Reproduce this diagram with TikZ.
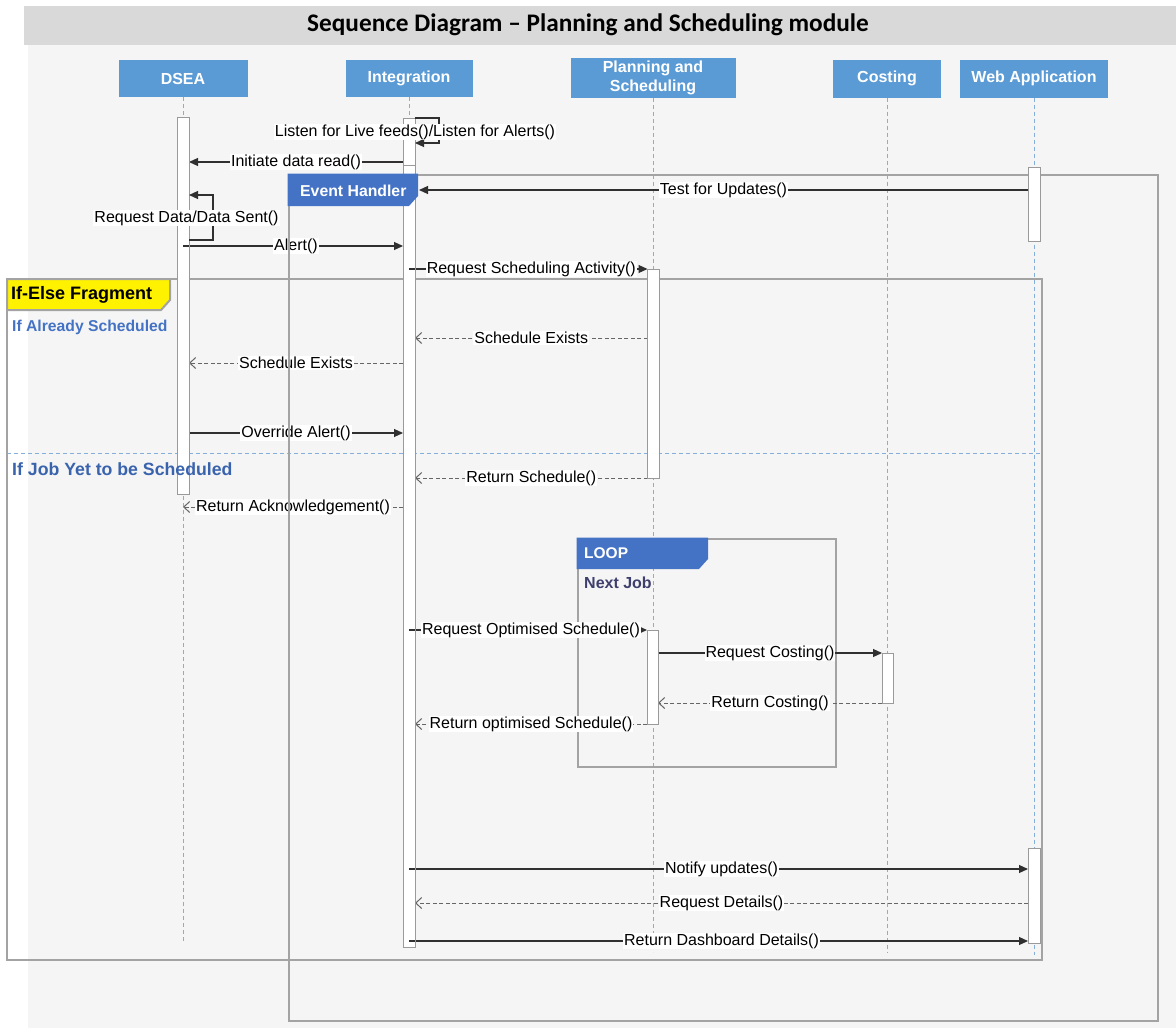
\documentclass[tikz,border=0pt]{standalone}
\usepackage{fontspec}
\setmainfont{Liberation Sans}
\newfontfamily\titlefont{Carlito}
\usetikzlibrary{arrows.meta}
\definecolor{hdrblue}{HTML}{5B9BD5}
\definecolor{tabblue}{HTML}{4472C4}
\definecolor{lifeblue}{HTML}{86AEDB}
\definecolor{framegray}{HTML}{A3A3A3}
\definecolor{actgray}{HTML}{9A9A9A}
\definecolor{msggray}{HTML}{303030}
\definecolor{retgray}{HTML}{666666}
\definecolor{panelgray}{HTML}{F5F5F5}
\definecolor{titlegray}{HTML}{D9D9D9}
\definecolor{condblue}{HTML}{4472C4}
\definecolor{condblueB}{HTML}{3A63AE}
\definecolor{nextjob}{HTML}{3F3F6E}
\newcommand\fsz[2]{\fontsize{#1}{#2}\selectfont}
\pgfdeclarelayer{bg}
\pgfdeclarelayer{life}
\pgfdeclarelayer{frames}
\pgfdeclarelayer{acts}
\pgfdeclarelayer{over}
\pgfdeclarelayer{top}
\pgfsetlayers{bg,life,main,frames,acts,over,top}
\tikzset{
  hdr/.style={fill=hdrblue, text=white, font=\bfseries\fsz{16}{19}, inner sep=0pt, outer sep=0pt, align=center},
  life/.style={draw=lifeblue, dash pattern=on 4pt off 3pt, line width=0.9pt},
  act/.style={draw=actgray, fill=white, line width=0.9pt, inner sep=0pt, outer sep=0pt, anchor=north west},
  msg/.style={draw=msggray, line width=1.1pt, -{Triangle[length=9pt,width=8pt]}},
  stub/.style={draw=msggray, line width=1.1pt},
  ret/.style={draw=retgray, line width=1pt, dash pattern=on 4pt off 2.5pt, -{Straight Barb[length=6pt,width=11pt]}},
  lbl/.style={fill=white, inner sep=1pt, font=\fsz{16}{18}, text=black},
  frm/.style={draw=framegray, line width=2.6pt},
}
\begin{document}
\begin{tikzpicture}[x=1pt,y=-1pt]
\useasboundingbox (0,0) rectangle (1176,1028);
\begin{pgfonlayer}{bg}
\fill[white] (0,0) rectangle (1176,1028);
\fill[panelgray] (28,45) rectangle (1176,1028);
\fill[titlegray] (24,6) rectangle (1176,45);
\end{pgfonlayer}
\node[font=\titlefont\bfseries\fsz{25.3}{29}] (title) at (588,25) {Sequence Diagram – Planning and Scheduling module};

% headers
\node[hdr, minimum width=129pt, minimum height=37pt] (dsea) at (183,78.5) {DSEA};
\node[hdr, minimum width=127pt, minimum height=37pt] (int) at (409,78.5) {Integration};
\node[hdr, minimum width=165pt, minimum height=40pt] (ps) at (653,78) {Planning and\\Scheduling};
\node[hdr, minimum width=108pt, minimum height=38pt] (cost) at (887,78.5) {Costing};
\node[hdr, minimum width=148pt, minimum height=38pt] (web) at (1034,78.5) {Web Application};

% lifelines
\coordinate (dseaEnd) at (183,943);
\coordinate (intEnd) at (409,950);
\coordinate (psEnd) at (653,952);
\coordinate (costEnd) at (887,952);
\coordinate (webEnd) at (1034,955);
\begin{pgfonlayer}{life}
\draw[life] (dsea.south) -- (dseaEnd);
\draw[life] (int.south) -- (intEnd);
\draw[life] (ps.south) -- (psEnd);
\draw[life] (cost.south) -- (costEnd);
\draw[life] (web.south) -- (webEnd);
\draw[life] (7,453) -- (1042,453);
\draw[frm] (578,539) rectangle (836,767);
\end{pgfonlayer}

% activations
\begin{pgfonlayer}{acts}
\node[act, minimum width=12pt, minimum height=377pt] (dseaAct) at (177,117) {};
\node[act, minimum width=12pt, minimum height=47pt] (intSelf) at (403,118) {};
\node[act, minimum width=12pt, minimum height=782pt] (intAct) at (403,165) {};
\node[act, minimum width=11.5pt, minimum height=209pt] (psAct1) at (647.5,269) {};
\node[act, minimum width=11pt, minimum height=94pt] (psAct2) at (647,630) {};
\node[act, minimum width=11pt, minimum height=50pt] (costAct) at (882,653) {};
\node[act, minimum width=12pt, minimum height=74pt] (webAct1) at (1028,167) {};
\node[act, minimum width=12pt, minimum height=95pt] (webAct2) at (1028,848) {};
\end{pgfonlayer}

% frames
\begin{pgfonlayer}{frames}
\draw[frm] (289,175) rectangle (1158,1021);
\draw[frm] (7,279) rectangle (1042,960);
\end{pgfonlayer}

% messages
\coordinate (ehTip) at (419,190);
\begin{pgfonlayer}{over}
\draw[stub] (dseaEnd |- 0,246) -- (dseaAct.east |- 0,246);
\draw[stub] (intEnd |- 0,269) -- (intAct.east |- 0,269);
\draw[stub] (intEnd |- 0,630) -- (intAct.east |- 0,630);
\draw[stub] (intEnd |- 0,869) -- (intAct.east |- 0,869);
\draw[stub] (intEnd |- 0,941) -- (intAct.east |- 0,941);
\end{pgfonlayer}
\begin{pgfonlayer}{top}
\draw[msg] (intSelf.north east) -- ++(24,0) |- (intSelf.east |- 0,143);
\node[lbl] (lListen) at (415,132) {Listen for Live feeds()/Listen for Alerts()};
\draw[msg] (dseaAct.east |- 0,240) -- ++(24,0) |- (dseaAct.east |- 0,195);
\node[lbl] (lReqData) at (186.5,218) {Request Data/Data Sent()};
\end{pgfonlayer}
\draw[msg] (intSelf.west |- 0,162) -- node[lbl] (lInit) {Initiate data read()} (dseaAct.east |- 0,162);
\draw[msg] (webAct1.west |- 0,190) -- node[lbl] (lTest) {Test for Updates()} (ehTip);
\draw[msg] (dseaAct.east |- 0,246) -- node[lbl] (lAlert) {Alert()} (intAct.west |- 0,246);
\draw[msg] (intAct.east |- 0,269) -- node[lbl] (lReqSch) {Request Scheduling Activity()} (psAct1.west |- 0,269);
\draw[ret] (psAct1.west |- 0,338) -- node[lbl] (lExists1) {Schedule Exists} (intAct.east |- 0,338);
\draw[ret] (intAct.west |- 0,363) -- node[lbl] (lExists2) {Schedule Exists} (dseaAct.east |- 0,363);
\draw[msg] (dseaAct.east |- 0,433) -- node[lbl] (lOverride) {Override Alert()} (intAct.west |- 0,433);
\draw[ret] (psAct1.west |- 0,478) -- node[lbl] (lRetSch) {Return Schedule()} (intAct.east |- 0,478);
\draw[ret] (intAct.west |- 0,507) -- node[lbl] (lAck) {Return Acknowledgement()} (dseaEnd |- 0,507);
\draw[msg] (intAct.east |- 0,630) -- node[lbl] (lReqOpt) {Request Optimised Schedule()} (psAct2.west |- 0,630);
\draw[msg] (psAct2.east |- 0,653) -- node[lbl] (lReqCost) {Request Costing()} (costAct.west |- 0,653);
\draw[ret] (costAct.west |- 0,703) -- node[lbl] (lRetCost) {Return Costing()} (psAct2.east |- 0,703);
\draw[ret] (psAct2.west |- 0,724) -- node[lbl] (lRetOpt) {Return optimised Schedule()} (intAct.east |- 0,724);
\draw[msg] (intAct.east |- 0,869) -- node[lbl] (lNotify) {Notify updates()} (webAct2.west |- 0,869);
\draw[ret] (webAct2.west |- 0,903) -- node[lbl] (lReqDet) {Request Details()} (intAct.east |- 0,903);
\draw[msg] (intAct.east |- 0,941) -- node[lbl] (lDash) {Return Dashboard Details()} (webAct2.west |- 0,941);

% tabs and fragment labels
\begin{pgfonlayer}{top}
\fill[tabblue] (287.7,173.7) -- (418,173.7) -- (418,196) -- (409,206) -- (287.7,206) -- cycle;
\node[font=\bfseries\fsz{15.8}{18}, text=white, anchor=west, inner sep=0pt] (ehLabel) at (300,190.5) {Event Handler};
\filldraw[fill=yellow, draw=framegray, line width=2pt] (7,279) -- (170,279) -- (170,300) -- (161,310) -- (7,310) -- cycle;
\node[font=\bfseries\fsz{18}{21}, anchor=west, inner sep=0pt] (ifLabel) at (11,295) {If-Else Fragment};
\node[font=\bfseries\fsz{15.7}{18}, text=condblue, anchor=west, inner sep=0pt] (cond1) at (12,327) {If Already Scheduled};
\node[font=\bfseries\fsz{17.7}{20}, text=condblueB, anchor=west, inner sep=0pt] (cond2) at (12,469) {If Job Yet to be Scheduled};
\fill[tabblue] (576.7,537.7) -- (708,537.7) -- (708,559) -- (699,569) -- (576.7,569) -- cycle;
\node[font=\bfseries\fsz{15.5}{18}, text=white, anchor=west, inner sep=0pt] (loopLabel) at (584,553.5) {LOOP};
\node[font=\bfseries\fsz{16}{18}, text=nextjob, anchor=west, inner sep=0pt] (nextJob) at (584,583) {Next Job};
\end{pgfonlayer}
\end{tikzpicture}
\end{document}
